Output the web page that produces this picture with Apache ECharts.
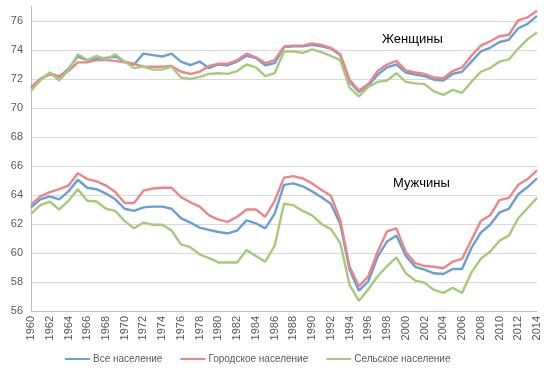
<!DOCTYPE html>
<html>
<head>
<meta charset="utf-8">
<script src="https://cdn.jsdelivr.net/npm/echarts@6/dist/echarts.min.js"></script>
<style>
  html, body { margin: 0; padding: 0; background: #fff; }
  #main { width: 550px; height: 375px; }
</style>
</head>
<body>
<div id="main"></div>
<script>
// годы
var years = [];
for (var y = 1960; y <= 2014; y++) years.push(String(y));

// Женщины
var womenAll = [71.4, 72.0, 72.4, 72.15, 72.7, 73.55, 73.3, 73.4, 73.45, 73.55, 73.2, 73.0, 73.75, 73.65, 73.55, 73.75, 73.2, 72.95, 73.2, 72.75, 73.0, 72.95, 73.2, 73.6, 73.45, 72.95, 73.1, 74.2, 74.25, 74.25, 74.35, 74.25, 74.1, 73.65, 71.8, 71.1, 71.55, 72.3, 72.8, 73.0, 72.45, 72.3, 72.2, 71.95, 71.9, 72.35, 72.5, 73.2, 73.9, 74.15, 74.55, 74.7, 75.5, 75.8, 76.35];
var womenUrban = [71.45, 72.0, 72.3, 72.2, 72.55, 73.15, 73.15, 73.3, 73.3, 73.25, 73.15, 73.05, 72.85, 72.85, 72.85, 72.9, 72.5, 72.35, 72.5, 72.9, 73.05, 73.05, 73.3, 73.75, 73.5, 73.1, 73.3, 74.25, 74.3, 74.3, 74.45, 74.35, 74.15, 73.7, 71.95, 71.2, 71.65, 72.55, 73.0, 73.25, 72.6, 72.45, 72.35, 72.1, 72.05, 72.55, 72.8, 73.6, 74.3, 74.6, 74.95, 75.05, 76.05, 76.25, 76.7];
var womenRural = [71.2, 71.9, 72.45, 71.9, 72.6, 73.7, 73.3, 73.6, 73.35, 73.7, 73.2, 72.75, 72.85, 72.65, 72.65, 72.85, 72.1, 72.0, 72.15, 72.35, 72.4, 72.35, 72.55, 73.0, 72.8, 72.2, 72.4, 73.9, 73.9, 73.8, 74.05, 73.85, 73.6, 73.3, 71.4, 70.8, 71.45, 71.8, 71.9, 72.4, 71.8, 71.7, 71.65, 71.15, 70.9, 71.25, 71.05, 71.8, 72.5, 72.75, 73.2, 73.35, 74.1, 74.75, 75.2];

// Мужчины
var menAll = [63.15, 63.7, 63.9, 63.7, 64.25, 65.05, 64.5, 64.4, 64.1, 63.7, 63.05, 62.9, 63.15, 63.2, 63.2, 63.05, 62.4, 62.1, 61.75, 61.6, 61.45, 61.35, 61.55, 62.25, 62.05, 61.7, 62.7, 64.7, 64.8, 64.6, 64.25, 63.85, 63.4, 62.0, 58.85, 57.4, 58.05, 59.75, 60.8, 61.2, 59.8, 59.05, 58.85, 58.6, 58.55, 58.9, 58.9, 60.35, 61.4, 61.95, 62.8, 63.05, 64.05, 64.55, 65.15];
var menUrban = [63.33, 63.9, 64.2, 64.4, 64.65, 65.5, 65.1, 64.95, 64.65, 64.2, 63.45, 63.45, 64.3, 64.45, 64.5, 64.5, 63.85, 63.5, 63.2, 62.6, 62.3, 62.15, 62.5, 63.0, 63.0, 62.5, 63.6, 65.2, 65.3, 65.15, 64.8, 64.35, 63.95, 62.3, 59.05, 57.7, 58.4, 60.1, 61.5, 61.7, 60.05, 59.3, 59.1, 59.05, 58.95, 59.4, 59.6, 60.9, 62.2, 62.6, 63.65, 63.8, 64.7, 65.1, 65.7];
var menRural = [62.7, 63.3, 63.55, 63.0, 63.6, 64.4, 63.6, 63.55, 63.05, 62.9, 62.2, 61.7, 62.1, 61.95, 61.95, 61.55, 60.6, 60.4, 59.9, 59.65, 59.35, 59.35, 59.35, 60.2, 59.8, 59.4, 60.5, 63.4, 63.3, 62.9, 62.6, 62.0, 61.65, 60.7, 57.8, 56.7, 57.5, 58.4, 59.1, 59.7, 58.6, 58.1, 57.95, 57.45, 57.25, 57.6, 57.25, 58.65, 59.6, 60.1, 60.85, 61.2, 62.4, 63.1, 63.8];

var names = ["Все население", "Городское население", "Сельское население"];
var colors = ["#6a9fd6", "#ec8587", "#a8c97c"];

// одна линия
function mkLine(name, color, data) {
  return {
    name: name, type: 'line', data: data,
    symbol: 'none', smooth: false,
    lineStyle: { color: color, width: 2.4 },
    itemStyle: { color: color },
    emphasis: { disabled: true }
  };
}

var series = [
  mkLine(names[0], colors[0], womenAll),
  mkLine(names[1], colors[1], womenUrban),
  mkLine(names[2], colors[2], womenRural),
  mkLine(names[0], colors[0], menAll),
  mkLine(names[1], colors[1], menUrban),
  mkLine(names[2], colors[2], menRural)
];

var chart = echarts.init(document.getElementById('main'));
chart.setOption({
  animation: false,
  textStyle: { fontFamily: 'Liberation Sans' },
  grid: { left: 31, right: 13, top: 6.5, bottom: 64, containLabel: false },
  legend: {
    data: names, top: 349, left: 60,
    itemWidth: 25, itemHeight: 2, itemGap: 18,
    icon: 'rect',
    textStyle: { color: '#595959', fontSize: 10, fontFamily: 'Liberation Sans', padding: [0, 0, 0, -2] }
  },
  xAxis: {
    type: 'category', data: years, boundaryGap: false,
    axisLine: { lineStyle: { color: '#bfbfbf' } },
    axisTick: { show: false },
    axisLabel: { interval: 1, rotate: 90, color: '#595959', fontSize: 11, margin: 5 },
    splitLine: { show: false }
  },
  yAxis: {
    type: 'value', min: 56, max: 77, interval: 2,
    axisLine: { show: true, lineStyle: { color: '#bfbfbf' } },
    axisTick: { show: false },
    axisLabel: { color: '#595959', fontSize: 11, margin: 8, showMaxLabel: false },
    splitLine: { lineStyle: { color: '#d9d9d9' }, showMaxLine: false }
  },
  graphic: [
    { type: 'text', left: 382, top: 33, style: { text: 'Женщины', fill: '#000', fontSize: 13, fontFamily: 'Liberation Sans' } },
    { type: 'text', left: 393, top: 177, style: { text: 'Мужчины', fill: '#000', fontSize: 13, fontFamily: 'Liberation Sans' } }
  ],
  series: series
});
</script>
</body>
</html>
